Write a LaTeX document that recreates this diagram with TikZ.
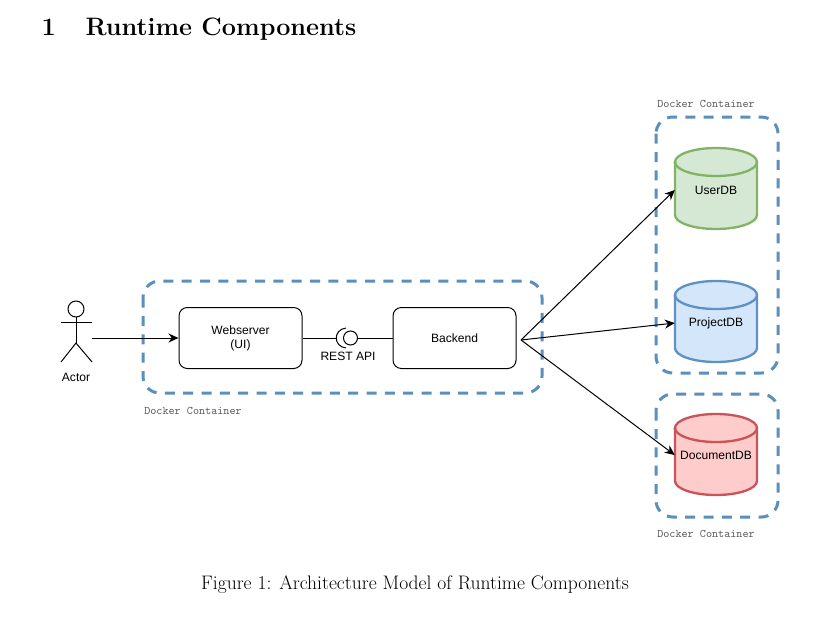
\documentclass[tikz,border=0pt]{standalone}
\usepackage{fontspec}
\setsansfont{Liberation Sans}
\usetikzlibrary{arrows.meta}

\definecolor{dockerblue}{HTML}{5B8FBC}
\definecolor{usergreen}{HTML}{D5E8D4}
\definecolor{userline}{HTML}{82B366}
\definecolor{projectblue}{HTML}{D4E6F9}
\definecolor{projectline}{HTML}{5F92C2}
\definecolor{documentred}{HTML}{FFCCCC}
\definecolor{documentline}{HTML}{C9545A}

\begin{document}
\begin{tikzpicture}[
	x=0.03cm, y=-0.03cm,
	>={Stealth[length=0.3cm,width=0.27cm]},
	line/.style={ line width=0.03cm },
	docker/.style={ draw=dockerblue, line width=0.09cm, rounded corners=0.5cm, dash pattern=on 0.3cm off 0.25cm },
	dockerlabel/.style={ font=\ttfamily\fontsize{9.9}{11}\selectfont, text=black!65!white, inner sep=0pt },
	box/.style={ draw, line width=0.03cm, rounded corners=0.25cm, minimum width=3.69cm, minimum height=1.83cm, align=center, inner sep=0pt, font=\sffamily\fontsize{10.3}{12}\selectfont },
	can/.style={ line width=0.07cm, x radius=1.23cm, y radius=0.42cm },
	database/.style={ minimum width=2.46cm, inner sep=0pt, font=\sffamily\fontsize{10.3}{12}\selectfont },
	sanstext/.style={ inner sep=0pt, font=\sffamily\fontsize{10.3}{12}\selectfont }
]
\useasboundingbox (0,0) rectangle (816,637);

\node at (199,29) (heading) [inner sep=0pt,font=\bfseries\fontsize{21.5}{25}\selectfont] {1\hspace{1.18em}Runtime Components};
\node at (415,585) (caption) [inner sep=0pt,font=\fontsize{16.7}{19}\selectfont] {Figure 1: Architecture Model of Runtime Components};

\draw[docker] (143,281) rectangle (542,393);
\draw[docker] (656,117) rectangle (778,373);
\draw[docker] (656,394) rectangle (778,517);
\node at (193,411) (dockera) [dockerlabel] {Docker Container};
\node at (706,104) (dockerb) [dockerlabel] {Docker Container};
\node at (706,534) (dockerc) [dockerlabel] {Docker Container};

% actor
\draw[line] (76,309) circle (0.24cm);
\draw[line] (61,322) -- (92,322);
\draw[line] (76,317) -- (76,343);
\draw[line] (61,362) -- (76,343) -- (92,362);
\node at (76,377) (actor) [sanstext] {Actor};
\coordinate (actorhand) at (92,338);

\node at (240.5,338) (webserver) [box] {Webserver\\(UI)};
\node at (454.5,338) (backend) [box] {Backend};

% databases
\foreach \ytop/\canfill/\canline in {162/usergreen/userline,295/projectblue/projectline,428/documentred/documentline} {
	\draw[can,fill=\canfill,draw=\canline] (675,\ytop) -- (675,\ytop+53) arc[start angle=180,end angle=360] -- (757,\ytop) arc[start angle=0,end angle=180] -- cycle;
	\draw[can,draw=\canline] (675,\ytop) arc[start angle=180,end angle=360];
}
\node at (716,190) (userdb) [database] {UserDB};
\node at (716,323) (projectdb) [database] {ProjectDB};
\node at (716,455) (documentdb) [database] {DocumentDB};

% rest interface
\node at (350.5,338) (restball) [circle,draw,line width=0.03cm,minimum size=0.42cm,inner sep=0pt] {};
\coordinate (restsocket) at (337,338);
\draw[line] (346,328) .. controls (333,329.5) and (333,346.5) .. (346,348);
\node at (348,356) (rest) [sanstext] {REST API};
\draw[line] (webserver) -- (restsocket);
\draw[line] (restball) -- (backend);

\coordinate (fan) at (521,340);
\draw[line,->] (actorhand) -- (webserver);
\draw[line,->] (fan) -- (userdb.west);
\draw[line,->] (fan) -- (projectdb.west);
\draw[line,->] (fan) -- (documentdb.west);

\end{tikzpicture}
\end{document}
